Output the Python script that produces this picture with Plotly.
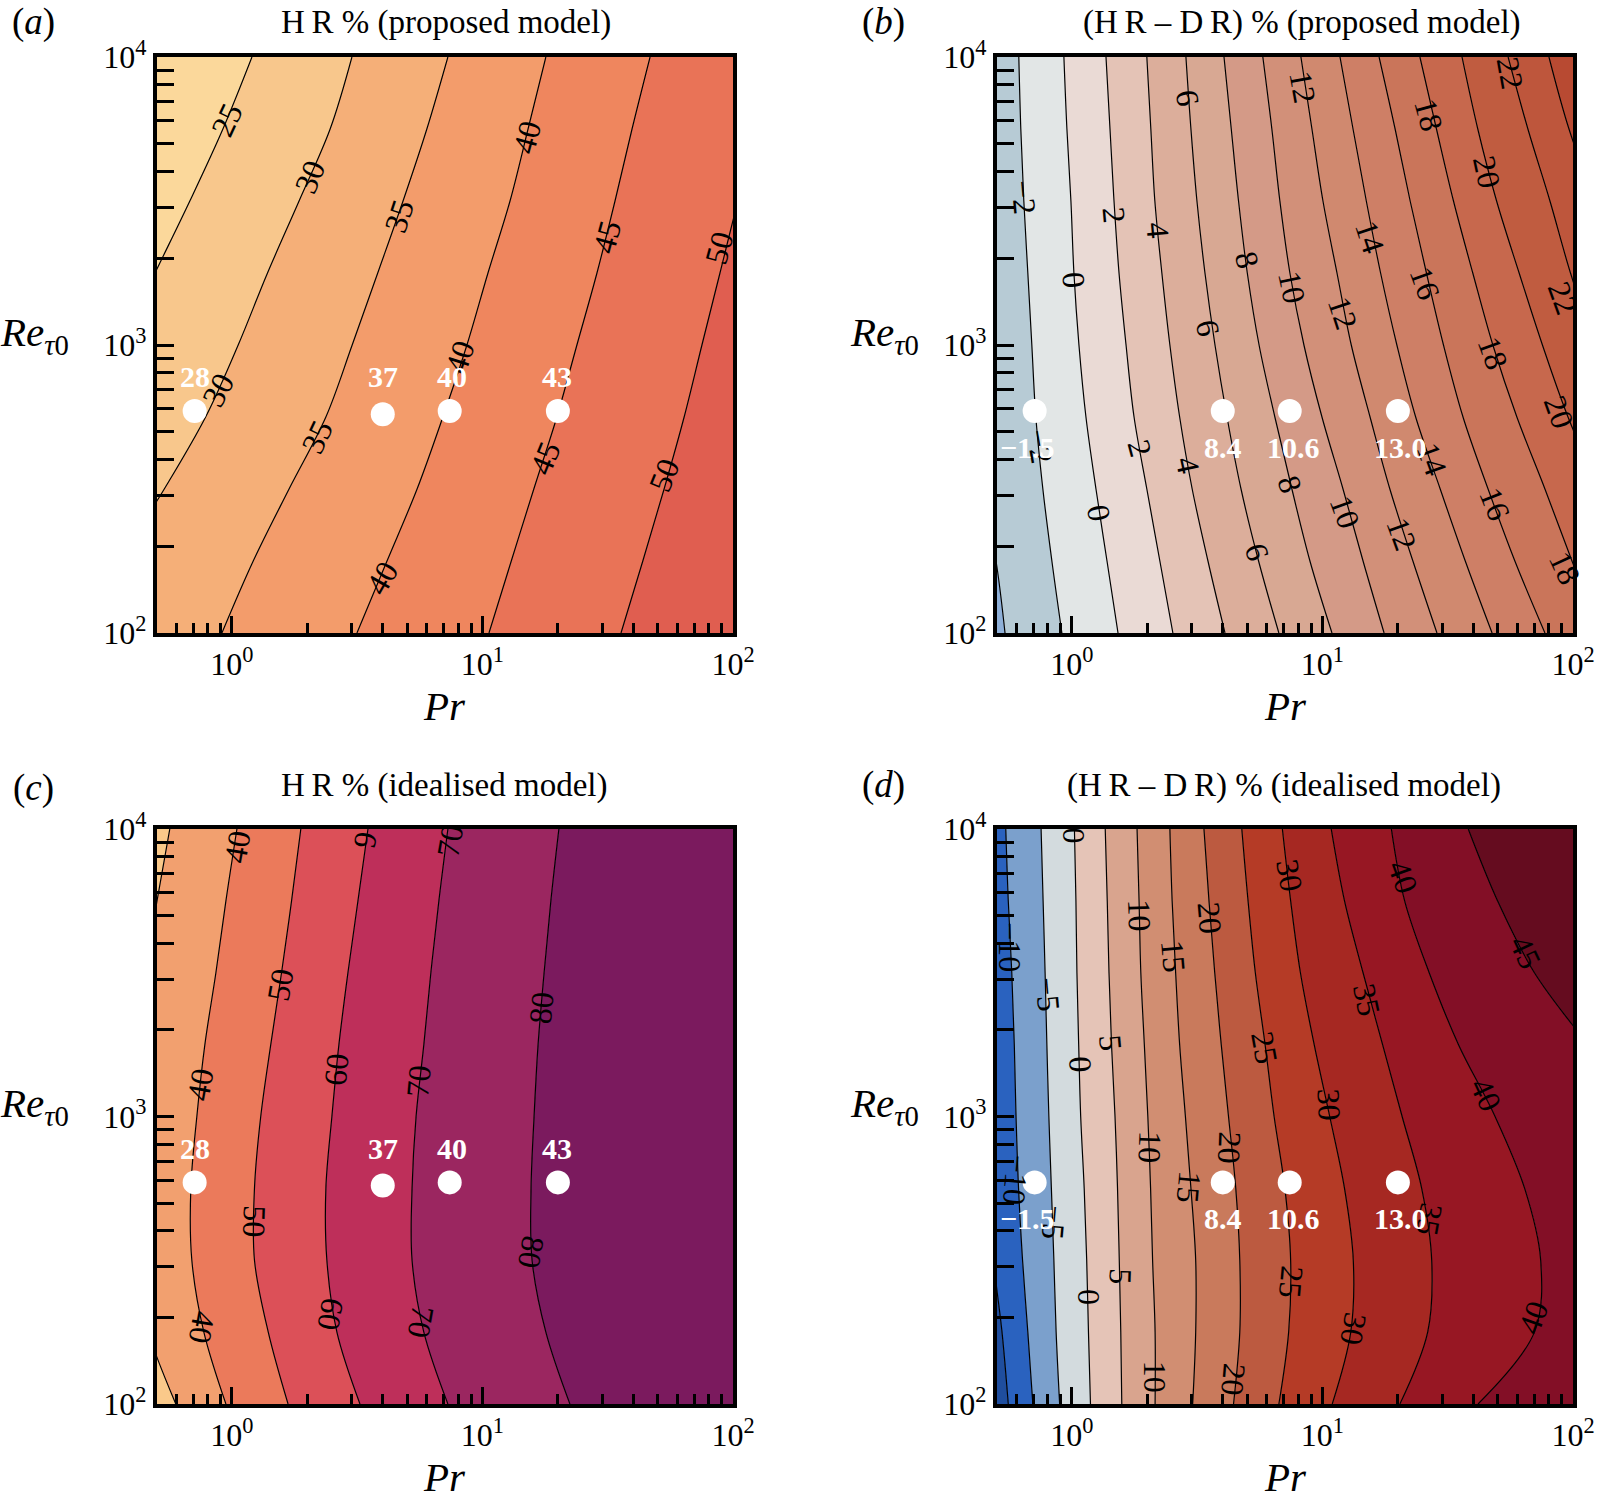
import numpy as np
import plotly.graph_objects as go

FONT = "Liberation Serif"

log_re_rows = [4, 3.75, 3.5, 3.25, 3, 2.75, 2.5, 2.25, 2]
edge_low = [-1.6] * 9
edge_high = [3.2] * 9

# --- (a) HR % proposed: log10(Pr) of each level along the rows
a_levels = [25, 30, 35, 40, 45, 50]
a_25 = [0.080, -0.036, -0.168, -0.307, -0.445, -0.580, -0.720, -0.860, -1.000]
a_30 = [0.479, 0.392, 0.268, 0.142, 0.025, -0.105, -0.270, -0.450, -0.620]
a_35 = [0.862, 0.778, 0.683, 0.582, 0.480, 0.375, 0.228, 0.085, -0.040]
a_40 = [1.253, 1.182, 1.110, 1.022, 0.938, 0.842, 0.739, 0.619, 0.499]
a_45 = [1.669, 1.597, 1.529, 1.457, 1.377, 1.297, 1.205, 1.115, 1.026]
a_50 = [2.190, 2.100, 2.020, 1.948, 1.876, 1.805, 1.725, 1.640, 1.553]
a_lines = [a_25, a_30, a_35, a_40, a_45, a_50]
a_colors = ["#FBD89B", "#F8C78C", "#F5AF78", "#F39C6B", "#EF865E", "#E97357", "#E05E50"]
a_label_text = ["25", "30", "35", "40", "45", "50", "40", "30", "35", "40", "45", "50"]
a_label_pr = [-0.020, 0.311, 0.667, 1.178, 1.497, 1.944, 0.910, -0.056, 0.339, 0.599, 1.250, 1.725]
a_label_re = [3.781, 3.583, 3.448, 3.722, 3.375, 3.337, 2.958, 2.844, 2.681, 2.191, 2.608, 2.549]
a_label_angle = [-65, -68, -72, -75, -75, -75, -72, -62, -65, -60, -68, -68]

# --- (b) HR-DR % proposed
b_levels = [-4, -2, 0, 2, 4, 6, 8, 10, 12, 14, 16, 18, 20, 22, 24]
b_m4 = [-0.687, -0.647, -0.607, -0.567, -0.507, -0.427, -0.359, -0.303, -0.267]
b_m2 = [-0.212, -0.204, -0.192, -0.176, -0.160, -0.144, -0.116, -0.080, -0.040]
b_0 = [-0.032, -0.020, -0.004, 0.008, 0.028, 0.056, 0.096, 0.140, 0.184]
b_2 = [0.136, 0.152, 0.168, 0.188, 0.216, 0.248, 0.299, 0.351, 0.403]
b_4 = [0.299, 0.315, 0.331, 0.359, 0.391, 0.430, 0.480, 0.543, 0.611]
b_6 = [0.455, 0.475, 0.499, 0.531, 0.571, 0.619, 0.675, 0.745, 0.826]
b_8 = [0.607, 0.636, 0.665, 0.700, 0.747, 0.810, 0.878, 0.950, 1.038]
b_10 = [0.762, 0.798, 0.830, 0.870, 0.926, 0.998, 1.082, 1.162, 1.246]
b_12 = [0.914, 0.958, 1.002, 1.058, 1.115, 1.190, 1.269, 1.361, 1.457]
b_14 = [1.070, 1.122, 1.175, 1.232, 1.297, 1.372, 1.470, 1.570, 1.677]
b_16 = [1.226, 1.290, 1.350, 1.415, 1.483, 1.561, 1.661, 1.768, 1.888]
b_18 = [1.389, 1.455, 1.523, 1.600, 1.680, 1.776, 1.888, 1.996, 2.108]
b_20 = [1.557, 1.620, 1.695, 1.785, 1.878, 1.980, 2.105, 2.248, 2.387]
b_22 = [1.741, 1.820, 1.908, 1.990, 2.088, 2.208, 2.347, 2.487, 2.627]
b_24 = [1.904, 1.984, 2.088, 2.208, 2.347, 2.507, 2.667, 2.826, 2.986]
b_lines = [b_m4, b_m2, b_0, b_2, b_4, b_6, b_8, b_10, b_12, b_14, b_16, b_18, b_20, b_22, b_24]
b_colors = ["#8FB0D8", "#B7CBD5", "#E2E6E6", "#EADAD5", "#E4C3B6", "#DCAE9B", "#D8A893", "#D49A87",
            "#D29079", "#D0896F", "#CE7F66", "#CA755A", "#C7684D", "#C05C40", "#BE563C", "#B84A32"]
b_label_text = ["\u22122", "0", "2", "4", "6", "6", "12", "18", "22", "20", "14", "8", "10", "16", "12", "18",
                "22", "20", "18", "16", "14", "12", "10", "8", "6", "2", "4", "0", "\u22122"]
b_label_pr = [-0.192, 0.008, 0.168, 0.343, 0.463, 0.543, 0.922, 1.425, 1.749, 1.657, 1.190, 0.699, 0.878, 1.409, 1.082, 1.681,
              1.960, 1.944, 1.968, 1.689, 1.437, 1.317, 1.090, 0.870, 0.739, 0.271, 0.463, 0.108, -0.128]
b_label_re = [3.514, 3.226, 3.451, 3.399, 3.858, 3.059, 3.896, 3.799, 3.944, 3.601, 3.375, 3.295, 3.201, 3.215, 3.111, 2.972,
              3.163, 2.767, 2.226, 2.448, 2.604, 2.344, 2.420, 2.517, 2.281, 2.642, 2.583, 2.417, 2.649]
b_label_angle = [85, 85, 85, 85, 80, 78, 80, 75, 80, 78, 72, 75, 78, 70, 72, 70,
                 70, 70, 65, 68, 70, 70, 70, 72, 72, 75, 78, 80, 80]

# --- (c) HR % idealised
c_levels = [30, 40, 50, 60, 70, 80]
c_30 = [-0.248, -0.299, -0.347, -0.407, -0.447, -0.447, -0.407, -0.335, -0.224]
c_40 = [0.020, -0.024, -0.064, -0.108, -0.140, -0.164, -0.160, -0.112, -0.024]
c_50 = [0.275, 0.238, 0.198, 0.155, 0.115, 0.090, 0.090, 0.145, 0.224]
c_60 = [0.543, 0.503, 0.463, 0.427, 0.399, 0.375, 0.379, 0.419, 0.511]
c_70 = [0.862, 0.826, 0.794, 0.766, 0.735, 0.719, 0.719, 0.766, 0.862]
c_80 = [1.305, 1.273, 1.246, 1.222, 1.206, 1.194, 1.198, 1.253, 1.349]
c_lines = [c_30, c_40, c_50, c_60, c_70, c_80]
c_colors = ["#FAC98A", "#F2A06F", "#EB7A5B", "#DC5058", "#BE2F5A", "#9B2660", "#7B1A5E"]
c_label_text = ["40", "6", "70", "50", "40", "60", "70", "80", "50", "80", "70", "60", "40"]
c_label_pr = [0.020, 0.535, 0.870, 0.192, -0.128, 0.415, 0.746, 1.234, 0.088, 1.194, 0.755, 0.395, -0.120]
c_label_re = [3.938, 3.962, 3.958, 3.458, 3.111, 3.163, 3.122, 3.378, 2.635, 2.528, 2.285, 2.313, 2.267]
c_label_angle = [-80, 100, -80, -80, -80, -85, -85, -85, 92, 100, 100, 100, 100]

# --- (d) HR-DR % idealised
d_levels = [-15, -10, -5, 0, 5, 10, 15, 20, 25, 30, 35, 40, 45]
d_m15 = [-0.420, -0.400, -0.381, -0.361, -0.346, -0.332, -0.313, -0.279, -0.254]
d_m10 = [-0.264, -0.254, -0.240, -0.230, -0.223, -0.213, -0.197, -0.176, -0.156]
d_m5 = [-0.123, -0.115, -0.107, -0.100, -0.092, -0.082, -0.072, -0.063, -0.049]
d_0 = [0.010, 0.016, 0.020, 0.027, 0.035, 0.049, 0.059, 0.066, 0.074]
d_5 = [0.133, 0.141, 0.148, 0.158, 0.172, 0.182, 0.189, 0.195, 0.199]
d_10 = [0.260, 0.268, 0.275, 0.289, 0.303, 0.314, 0.322, 0.332, 0.332]
d_15 = [0.391, 0.400, 0.414, 0.430, 0.453, 0.475, 0.494, 0.494, 0.482]
d_20 = [0.527, 0.547, 0.570, 0.596, 0.625, 0.654, 0.670, 0.670, 0.645]
d_25 = [0.678, 0.703, 0.732, 0.771, 0.807, 0.850, 0.873, 0.865, 0.826]
d_30 = [0.840, 0.873, 0.912, 0.967, 1.029, 1.088, 1.123, 1.113, 1.039]
d_35 = [1.035, 1.088, 1.162, 1.240, 1.318, 1.396, 1.436, 1.420, 1.309]
d_40 = [1.275, 1.328, 1.426, 1.543, 1.689, 1.807, 1.871, 1.846, 1.621]
d_45 = [1.582, 1.699, 1.846, 2.061, 2.314, 2.549, 2.646, 2.549, 2.354]
d_lines = [d_m15, d_m10, d_m5, d_0, d_5, d_10, d_15, d_20, d_25, d_30, d_35, d_40, d_45]
d_colors = ["#1F4E9E", "#2A62BF", "#7BA0CC", "#D3DBDE", "#E5C4B7", "#D9A48E", "#D18E72",
            "#C97A5C", "#BC5A40", "#B53B26", "#A62822", "#971723", "#830F26", "#650C1F"]
d_label_text = ["0", "\u221210", "30", "40", "10", "20", "15", "\u22125", "45", "35", "5", "25", "0", "30", "40",
                "10", "20", "\u221210", "15", "25", "5", "0", "30", "40", "10", "20", "\u22125", "35"]
d_label_pr = [0.010, -0.248, 0.869, 1.322, 0.270, 0.551, 0.406, -0.094, 1.811, 1.178, 0.156, 0.771, 0.033, 1.025, 1.654,
              0.313, 0.631, -0.225, 0.469, 0.875, 0.195, 0.068, 1.123, 1.842, 0.332, 0.645, -0.072, 1.426]
d_label_re = [3.976, 3.590, 3.840, 3.833, 3.701, 3.691, 3.559, 3.424, 3.573, 3.406, 3.257, 3.240, 3.181, 3.042, 3.076,
              2.892, 2.892, 2.781, 2.753, 2.424, 2.445, 2.372, 2.260, 2.302, 2.094, 2.087, 2.632, 2.642]
d_label_angle = [90, 90, 80, 70, 88, 85, 85, 85, 65, 78, 85, 80, 88, 88, 65,
                 92, 92, 95, 95, 95, 92, 90, 100, -70, 90, 95, 95, 100]

# --- white points
point_pr = [0.71, 4, 7.4, 20]
point_re_left = [590, 575, 590, 590]
point_re_right = [590, 590, 590, 590]
point_text_left = ["28", "37", "40", "43"]
point_text_right = ["\u22121.5", "8.4", "10.6", "13.0"]
left_text_pr = [-0.148, 0.603, 0.878, 1.297]
right_text_pr = [-0.176, 0.603, 0.885, 1.310]
left_text_re = 2.889
right_text_re = 2.644

# axis ticks
x_major = [1, 10, 100]
x_minor = [0.6, 0.7, 0.8, 0.9, 2, 3, 4, 5, 6, 7, 8, 9, 20, 30, 40, 50, 60, 70, 80, 90]
y_major = [100, 1000, 10000]
y_minor = [200, 300, 400, 500, 600, 700, 800, 900, 2000, 3000, 4000, 5000, 6000, 7000, 8000, 9000]

W, H = 1597, 1491
fig = go.Figure()


def add_panel(idx, lines, colors, labels, pt_re, pt_text, txt_pr, txt_re, box):
    ax = "" if idx == 1 else str(idx)
    xa, ya = "x" + ax, "y" + ax
    y_vals = np.power(10.0, log_re_rows)

    # filled bands between neighbouring contour lines
    edges = [edge_low] + lines + [edge_high]
    for i, edge in enumerate(edges):
        fig.add_trace(go.Scatter(
            x=np.power(10.0, edge), y=y_vals, xaxis=xa, yaxis=ya, mode="lines",
            line=dict(width=0, shape="spline", simplify=False),
            fill=None if i == 0 else "tonextx",
            fillcolor=None if i == 0 else colors[i - 1],
            hoverinfo="skip", showlegend=False))

    # contour lines on top
    for line in lines:
        fig.add_trace(go.Scatter(
            x=np.power(10.0, line), y=y_vals, xaxis=xa, yaxis=ya, mode="lines",
            line=dict(color="black", width=1.2, shape="spline", simplify=False),
            hoverinfo="skip", showlegend=False))

    fig.add_trace(go.Scatter(
        x=point_pr, y=pt_re, xaxis=xa, yaxis=ya, mode="markers",
        marker=dict(color="white", size=24), hoverinfo="skip", showlegend=False))

    text, pr, re_, angle = labels
    for t, px, py, a in zip(text, pr, re_, angle):
        fig.add_annotation(x=px, y=py, xref=xa, yref=ya, text=t, textangle=a, showarrow=False,
                           xanchor="center", yanchor="middle",
                           font=dict(family=FONT, size=32, color="black"))
    for t, px in zip(pt_text, txt_pr):
        fig.add_annotation(x=px, y=txt_re, xref=xa, yref=ya, text="<b>" + t + "</b>", showarrow=False,
                           xanchor="center", yanchor="middle",
                           font=dict(family=FONT, size=30, color="white"))

    left, right, top, bottom = box
    axis_common = dict(type="log", showgrid=False, zeroline=False, showline=True, mirror=True, automargin=False,
                       linecolor="black", linewidth=3.5, ticks="inside", tickwidth=3, tickcolor="black",
                       tickmode="array", tickfont=dict(family=FONT, size=32, color="black"))
    fig.layout["xaxis" + ax] = dict(
        axis_common, domain=[left / W, right / W], range=[np.log10(0.5), 2], anchor=ya,
        tickvals=x_major, ticktext=["10<sup>0</sup>", "10<sup>1</sup>", "10<sup>2</sup>"],
        ticklen=17, ticklabelstandoff=0,
        minor=dict(tickmode="array", tickvals=x_minor, ticks="inside", ticklen=10, tickwidth=3, tickcolor="black"))
    fig.layout["yaxis" + ax] = dict(
        axis_common, domain=[1 - bottom / H, 1 - top / H], range=[2, 4], anchor=xa,
        tickvals=y_major, ticktext=["10<sup>2</sup>", "10<sup>3</sup>", "10<sup>4</sup>"],
        ticklen=18, ticklabelstandoff=0,
        minor=dict(tickmode="array", tickvals=y_minor, ticks="inside", ticklen=18, tickwidth=3, tickcolor="black"))


add_panel(1, a_lines, a_colors, (a_label_text, a_label_pr, a_label_re, a_label_angle),
          point_re_left, point_text_left, left_text_pr, left_text_re, (156.5, 733, 57, 633))
add_panel(2, b_lines, b_colors, (b_label_text, b_label_pr, b_label_re, b_label_angle),
          point_re_right, point_text_right, right_text_pr, right_text_re, (996.5, 1573, 57, 633))
add_panel(3, c_lines, c_colors, (c_label_text, c_label_pr, c_label_re, c_label_angle),
          point_re_left, point_text_left, left_text_pr, left_text_re, (156.5, 733, 829, 1404))
add_panel(4, d_lines, d_colors, (d_label_text, d_label_pr, d_label_re, d_label_angle),
          point_re_right, point_text_right, right_text_pr, right_text_re, (996.5, 1573, 829, 1404))


def paper_text(x, y, text, size):
    fig.add_annotation(x=x / W, y=1 - y / H, xref="paper", yref="paper",
                       text=text, showarrow=False, xanchor="center", yanchor="middle",
                       font=dict(family=FONT, size=size, color="black"))


titles = ["H\u2009R % (proposed model)", "(H\u2009R \u2013 D\u2009R) % (proposed model)",
          "H\u2009R % (idealised model)", "(H\u2009R \u2013 D\u2009R) % (idealised model)"]
title_x = [446, 1302, 444, 1284]
title_y = [22, 22, 785, 785]
letters = ["a", "b", "c", "d"]
letter_x = [33, 883, 33, 883]
letter_y = [22, 22, 788, 785]
for t, tx, ty in zip(titles, title_x, title_y):
    paper_text(tx, ty, t, 33)
for t, tx, ty in zip(letters, letter_x, letter_y):
    paper_text(tx, ty, "(<i>" + t + "</i>)", 37)
for tx, ty in zip([34, 884, 34, 884], [335, 335, 1106, 1106]):
    paper_text(tx, ty, "<i>Re</i><sub><i>\u03c4</i>0</sub>", 41)
for tx, ty in zip([444, 1285, 444, 1285], [706, 706, 1477, 1477]):
    paper_text(tx, ty, "<i>Pr</i>", 41)

fig.update_layout(width=W, height=H, margin=dict(l=0, r=0, t=0, b=0), autosize=False,
                  paper_bgcolor="white", plot_bgcolor="white", showlegend=False)

# no mode bar, and drop the browser's default page margin so the figure fills the window
fig.write_html("out.html", config={"displayModeBar": False},
               post_script="document.body.style.margin='0';document.body.style.overflow='hidden';")
